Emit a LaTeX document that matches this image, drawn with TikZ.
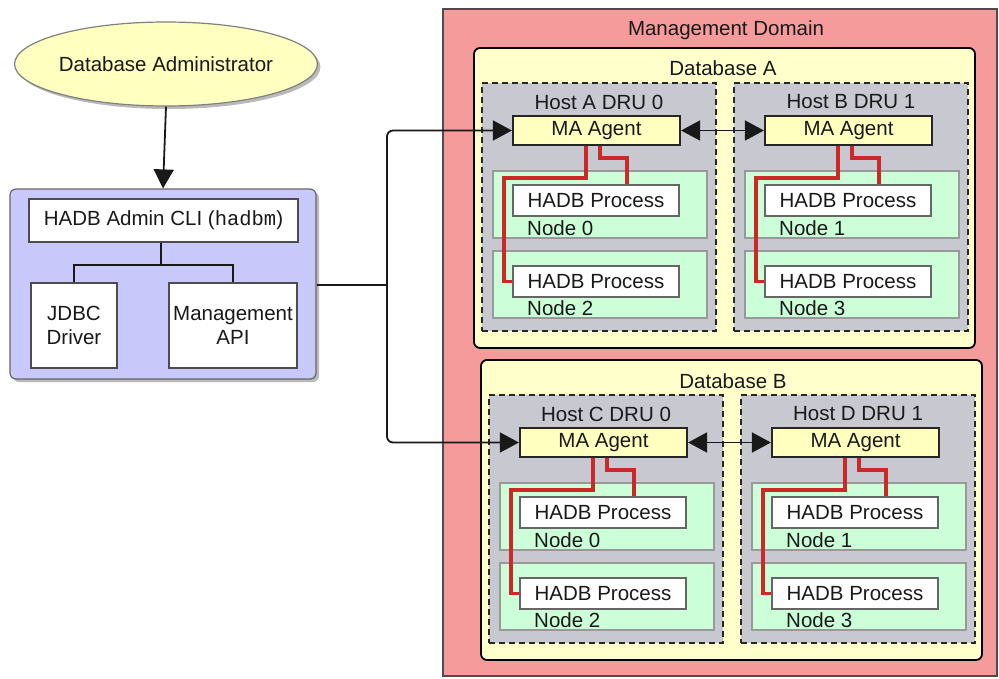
\documentclass[tikz,border=0pt]{standalone}
\usepackage{fontspec}
\setmainfont{Liberation Sans}
\setmonofont{Liberation Mono}
\usetikzlibrary{arrows.meta,shadows,shapes.geometric}
\definecolor{domred}{RGB}{245,155,155}
\definecolor{dbyellow}{RGB}{255,255,204}
\definecolor{hostgray}{RGB}{200,200,208}
\definecolor{nodegreen}{RGB}{204,255,216}
\definecolor{cliblue}{RGB}{200,200,250}
\definecolor{linkred}{RGB}{205,40,40}
\definecolor{elliyellow}{RGB}{255,255,192}
\tikzset{
  every node/.style={font=\fontsize{20.5}{24}\selectfont, inner sep=0pt, text=black!90},
  domainbox/.style={rectangle, draw=black!70, line width=1.6pt, fill=domred},
  dbbox/.style={rectangle, rounded corners=6pt, draw=black, line width=1.8pt, fill=dbyellow},
  hostbox/.style={rectangle, draw=black!85, line width=2.2pt, dash pattern=on 6pt off 4pt, fill=hostgray},
  agentbox/.style={rectangle, draw=black!85, line width=2.2pt, fill=elliyellow, minimum width=167pt, minimum height=29pt},
  nodebox/.style={rectangle, draw=black!40, line width=1.2pt, fill=nodegreen, minimum width=214pt, minimum height=67pt},
  procbox/.style={rectangle, draw=black!60, line width=1.2pt, fill=white, minimum width=166pt, minimum height=31pt},
  whitebox/.style={rectangle, draw=black!70, line width=1.2pt, fill=white, align=center},
  redlink/.style={draw=linkred, line width=3.2pt},
  conn/.style={draw=black!90, line width=1.8pt},
  tip/.style={-{Triangle[length=19pt,width=20pt]}},
  dtip/.style={{Triangle[length=19pt,width=20pt]}-{Triangle[length=19pt,width=20pt]}},
  shade/.style={drop shadow={opacity=0.45, shadow xshift=3pt, shadow yshift=-3pt, fill=black!60}},
}
\newcommand{\hostblock}[5]{%
  \begin{scope}[shift={#1}]
    \node[hostbox, minimum width=234pt, minimum height=248pt] (#2host) at (599,207) {};
    \node (#2hlabel) at (599,102) {#3};
    \node[agentbox] (#2ma) at (596.5,130.5) {MA Agent};
    \node[nodebox] (#2nt) at (600,204.5) {};
    \node[procbox] (#2pt) at (596,200.5) {HADB Process};
    \node[anchor=west] (#2lt) at (527,228) {Node #4};
    \node[nodebox] (#2nb) at (600,284.5) {};
    \node[procbox] (#2pb) at (596,281.5) {HADB Process};
    \node[anchor=west] (#2lb) at (527,308) {Node #5};
    \draw[redlink] ([xshift=-10.5pt]#2ma.south) -- (586,178) -- (504,178) -- (504,281.5) -- (#2pb.west);
    \draw[redlink] ([xshift=3.5pt]#2ma.south) -- (600,158) -- (627,158) -- ([xshift=31pt]#2pt.north);
  \end{scope}%
}
\begin{document}
\begin{tikzpicture}[x=1pt,y=-1pt]
\useasboundingbox (0,0) rectangle (999,678);
% Left side
\node[ellipse, draw=black!50, line width=1.2pt, fill=elliyellow, minimum width=254pt, minimum height=84pt, shade] (admin) at (166,64) {Database Administrator};
\node[rectangle, rounded corners=6pt, draw=black!60, line width=1.2pt, fill=cliblue, minimum width=306pt, minimum height=190pt, shade] (tools) at (163,284) {};
\node[whitebox, minimum width=269pt, minimum height=43pt] (cli) at (163.5,220.5) {HADB Admin CLI (\texttt{hadbm})};
\node[whitebox, minimum width=86pt, minimum height=85pt] (jdbc) at (74,325.5) {JDBC\\Driver};
\node[whitebox, minimum width=128pt, minimum height=85pt] (api) at (233,325.5) {Management\\API};
\coordinate (split) at (161,265);
\draw[conn] (cli.south -| split) -- (split);
\draw[conn] (jdbc.north) |- (split) -| (api.north);
\draw[conn, tip] (admin.south) -- (tools.north);
% Management domain
\node[domainbox, minimum width=554pt, minimum height=667pt] (domain) at (720,342.5) {};
\node (domlabel) at (726,30) {Management Domain};
\node[dbbox, minimum width=501pt, minimum height=300pt] (dbA) at (724.5,198) {};
\node (dbAlabel) at (723,68) {Database A};
\node[dbbox, minimum width=501pt, minimum height=300pt] (dbB) at (731.5,510) {};
\node (dbBlabel) at (733,381) {Database B};
\hostblock{(0,0)}{A}{Host A DRU 0}{0}{2}
\hostblock{(252,0)}{B}{Host B DRU 1}{1}{3}
\hostblock{(7,312)}{C}{Host C DRU 0}{0}{2}
\hostblock{(259,312)}{D}{Host D DRU 1}{1}{3}
% Connectors
\coordinate (junc) at (387,285);
\draw[conn] (tools.east |- junc) -- (junc);
\draw[conn, tip, rounded corners=6pt] (junc) |- (Ama.west);
\draw[conn, tip, rounded corners=6pt] (junc) |- (Cma.west);
\draw[conn, dtip] (Ama.east) -- (Bma.west);
\draw[conn, dtip] (Cma.east) -- (Dma.west);
\end{tikzpicture}
\end{document}
